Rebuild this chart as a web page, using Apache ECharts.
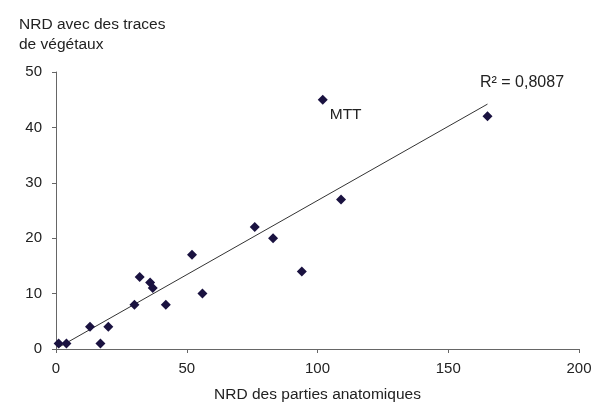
<!DOCTYPE html>
<html>
<head>
<meta charset="utf-8">
<script src="https://cdn.jsdelivr.net/npm/echarts@6/dist/echarts.min.js"></script>
<style>html,body{margin:0;padding:0;background:#fff;}#c{width:603px;height:403px;}</style>
</head>
<body>
<div id="c"></div>
<script>
// NRD des parties anatomiques (x) vs NRD avec des traces de végétaux (y)
var xValues = [1, 4, 13, 17, 20, 30, 32, 36, 37, 42, 52, 56, 76, 83, 94, 102, 109, 165];
var yValues = [1, 1, 4, 1, 4, 8, 13, 12, 11, 8, 17, 10, 22, 20, 14, 45, 27, 42];
var pointLabels = ["", "", "", "", "", "", "", "", "", "", "", "", "", "", "", "MTT", "", ""];
var xTicks = [0, 50, 100, 150, 200];
var yTicks = [0, 10, 20, 30, 40, 50];
var r2Text = "R\u00B2 = 0,8087";
var xTitle = "NRD des parties anatomiques";
var yTitle = "NRD avec des traces\nde végétaux";

// linear regression trendline from the data
var n = xValues.length, sx = 0, sy = 0, sxx = 0, sxy = 0;
for (var i = 0; i < n; i++) { sx += xValues[i]; sy += yValues[i]; sxx += xValues[i]*xValues[i]; sxy += xValues[i]*yValues[i]; }
var slope = (n*sxy - sx*sy) / (n*sxx - sx*sx);
var intercept = (sy - slope*sx) / n;
var xMin = Math.min.apply(null, xValues), xMax = Math.max.apply(null, xValues);
var trend = [[xMin, intercept + slope*xMin], [xMax, intercept + slope*xMax]];

var pts = xValues.map(function (x, i) { return { value: [x, yValues[i]], name: pointLabels[i] }; });

var font = "Liberation Sans, Arial, sans-serif";
var chart = echarts.init(document.getElementById('c'), null, { renderer: 'canvas' });
chart.setOption({
  backgroundColor: '#fff',
  animation: false,
  textStyle: { fontFamily: font },
  title: {
    text: yTitle, left: 14, top: 10,
    textStyle: { fontFamily: font, fontSize: 15.5, fontWeight: 'normal', color: '#222', lineHeight: 19.5 }
  },
  graphic: [{
    type: 'text', left: 480, top: 75,
    style: { text: r2Text, font: '16px ' + font, fill: '#222' }
  }],
  grid: { left: 56, right: 24, top: 72, bottom: 54, containLabel: false, outerBoundsMode: 'none' },
  xAxis: {
    type: 'value', min: xTicks[0], max: xTicks[xTicks.length-1], interval: 50,
    name: xTitle, nameLocation: 'middle', nameGap: 38,
    nameTextStyle: { fontFamily: font, fontSize: 15.5, color: '#222' },
    axisLine: { show: true, lineStyle: { color: '#666', width: 1 } },
    axisTick: { show: true, length: 4, inside: false, lineStyle: { color: '#666' } },
    axisLabel: { fontFamily: font, fontSize: 15, color: '#222', margin: 12 },
    splitLine: { show: false }
  },
  yAxis: {
    type: 'value', min: yTicks[0], max: yTicks[yTicks.length-1], interval: 10,
    axisLine: { show: true, lineStyle: { color: '#666', width: 1 } },
    axisTick: { show: true, length: 4, lineStyle: { color: '#666' } },
    axisLabel: { fontFamily: font, fontSize: 15, color: '#222', margin: 14 },
    splitLine: { show: false }
  },
  series: [
    {
      type: 'line', data: trend, symbol: 'none', silent: true,
      lineStyle: { color: '#333', width: 1 }, z: 1
    },
    {
      type: 'scatter', data: pts, symbol: 'diamond', symbolSize: 10,
      itemStyle: { color: '#1a1240', opacity: 1 }, z: 2,
      label: {
        show: true, formatter: function (p) { return p.name; },
        position: 'right', offset: [-3, 15],
        fontFamily: font, fontSize: 15.5, color: '#222'
      }
    }
  ]
});
</script>
</body>
</html>
